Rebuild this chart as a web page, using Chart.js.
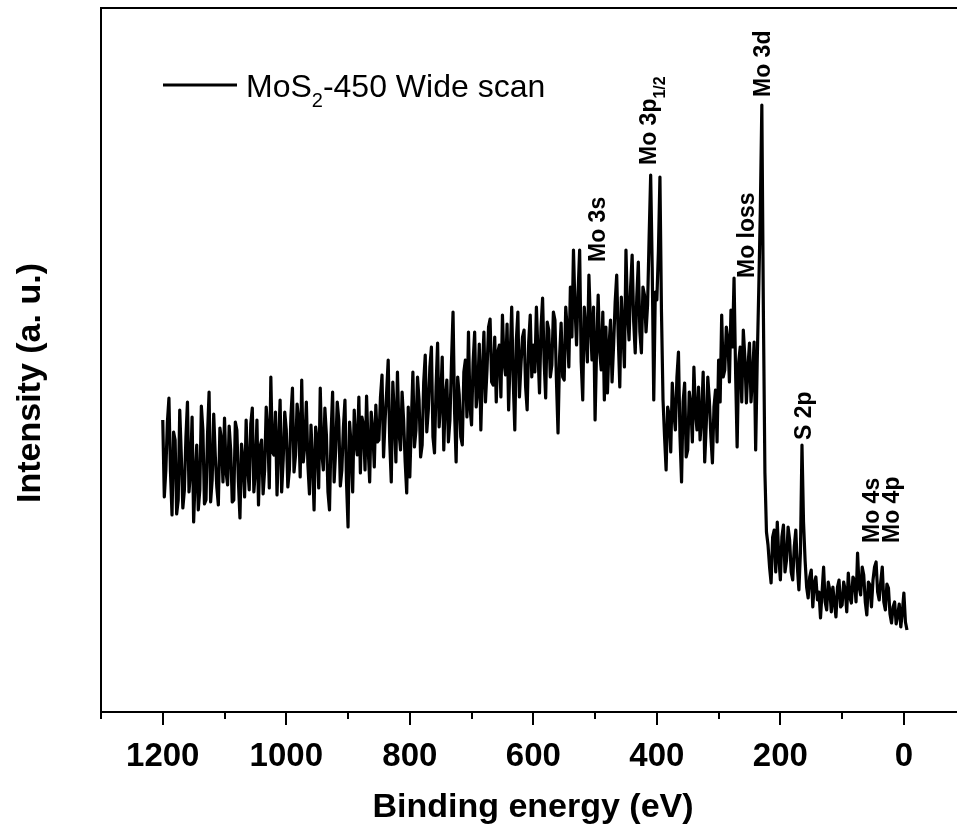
<!DOCTYPE html>
<html>
<head>
<meta charset="utf-8">
<title>MoS2-450 XPS wide scan</title>
<script src="https://cdn.jsdelivr.net/npm/chart.js@4/dist/chart.umd.min.js"></script>
<style>
  html, body { margin: 0; padding: 0; background: #fff; overflow: hidden; }
  #wrap { width: 957px; height: 833px; }
</style>
</head>
<body>
<div id="wrap"><canvas id="xps" width="957" height="833"></canvas></div>
<script>
// Binding energy grid of the survey scan (eV), 2.5 eV steps
const bindingEnergy = [
  1200,1197.5,1195,1192.5,1190,1187.5,1185,1182.5,1180,1177.5,1175,1172.5,1170,1167.5,1165,1162.5,1160,1157.5,1155,1152.5,1150,1147.5,1145,1142.5,1140,1137.5,1135,1132.5,1130,1127.5,1125,1122.5,1120,1117.5,1115,1112.5,1110,1107.5,1105,1102.5,
  1100,1097.5,1095,1092.5,1090,1087.5,1085,1082.5,1080,1077.5,1075,1072.5,1070,1067.5,1065,1062.5,1060,1057.5,1055,1052.5,1050,1047.5,1045,1042.5,1040,1037.5,1035,1032.5,1030,1027.5,1025,1022.5,1020,1017.5,1015,1012.5,1010,1007.5,1005,1002.5,
  1000,997.5,995,992.5,990,987.5,985,982.5,980,977.5,975,972.5,970,967.5,965,962.5,960,957.5,955,952.5,950,947.5,945,942.5,940,937.5,935,932.5,930,927.5,925,922.5,920,917.5,915,912.5,910,907.5,905,902.5,
  900,897.5,895,892.5,890,887.5,885,882.5,880,877.5,875,872.5,870,867.5,865,862.5,860,857.5,855,852.5,850,847.5,845,842.5,840,837.5,835,832.5,830,827.5,825,822.5,820,817.5,815,812.5,810,807.5,805,802.5,
  800,797.5,795,792.5,790,787.5,785,782.5,780,777.5,775,772.5,770,767.5,765,762.5,760,757.5,755,752.5,750,747.5,745,742.5,740,737.5,735,732.5,730,727.5,725,722.5,720,717.5,715,712.5,710,707.5,705,702.5,
  700,697.5,695,692.5,690,687.5,685,682.5,680,677.5,675,672.5,670,667.5,665,662.5,660,657.5,655,652.5,650,647.5,645,642.5,640,637.5,635,632.5,630,627.5,625,622.5,620,617.5,615,612.5,610,607.5,605,602.5,
  600,597.5,595,592.5,590,587.5,585,582.5,580,577.5,575,572.5,570,567.5,565,562.5,560,557.5,555,552.5,550,547.5,545,542.5,540,537.5,535,532.5,530,527.5,525,522.5,520,517.5,515,512.5,510,507.5,505,502.5,
  500,497.5,495,492.5,490,487.5,485,482.5,480,477.5,475,472.5,470,467.5,465,462.5,460,457.5,455,452.5,450,447.5,445,442.5,440,437.5,435,432.5,430,427.5,425,422.5,420,417.5,415,412.5,410,407.5,405,402.5,
  400,397.5,395,392.5,390,387.5,385,382.5,380,377.5,375,372.5,370,367.5,365,362.5,360,357.5,355,352.5,350,347.5,345,342.5,340,337.5,335,332.5,330,327.5,325,322.5,320,317.5,315,312.5,310,307.5,305,302.5,
  300,297.5,295,292.5,290,287.5,285,282.5,280,277.5,275,272.5,270,267.5,265,262.5,260,257.5,255,252.5,250,247.5,245,242.5,240,237.5,235,232.5,230,227.5,225,222.5,220,217.5,215,212.5,210,207.5,205,202.5,
  200,197.5,195,192.5,190,187.5,185,182.5,180,177.5,175,172.5,170,167.5,165,162.5,160,157.5,155,152.5,150,147.5,145,142.5,140,137.5,135,132.5,130,127.5,125,122.5,120,117.5,115,112.5,110,107.5,105,102.5,
  100,97.5,95,92.5,90,87.5,85,82.5,80,77.5,75,72.5,70,67.5,65,62.5,60,57.5,55,52.5,50,47.5,45,42.5,40,37.5,35,32.5,30,27.5,25,22.5,20,17.5,15,12.5,10,7.5,5,2.5,
  0,-2.5,-5
];

// Intensity (arbitrary units), one value per energy above
const intensity = [
  29.2,21.5,24.2,29.0,31.4,24.0,19.7,28.0,27.2,19.8,21.2,30.2,25.7,20.4,22.2,27.5,31.0,22.0,24.2,29.5,19.0,23.5,26.7,20.2,22.2,30.6,28.2,20.8,21.2,27.8,32.0,21.0,23.2,29.8,25.7,22.5,20.7,28.4,27.2,23.0,
  29.4,24.0,22.7,28.6,26.2,21.0,21.2,29.0,28.2,23.0,19.4,26.8,25.2,21.5,29.2,24.5,22.2,28.8,30.4,22.0,24.2,29.2,20.7,26.5,27.2,21.8,24.2,30.5,28.2,22.4,33.5,26.0,25.7,30.0,21.7,26.8,31.2,22.0,25.2,30.0,
  28.2,22.5,24.2,29.6,32.4,24.0,25.7,30.8,29.2,23.5,33.2,25.0,26.7,31.0,24.7,21.8,28.7,25.0,20.2,28.5,27.2,22.4,32.4,26.0,24.2,30.4,27.7,22.0,20.2,27.8,32.0,23.0,26.2,31.0,29.2,22.6,24.2,28.5,31.2,23.0,
  18.5,29.0,26.7,22.0,30.2,27.0,25.7,31.5,23.9,29.5,28.7,24.2,31.6,26.5,23.0,30.0,28.2,24.5,30.7,27.0,27.2,31.5,33.7,25.5,29.2,32.0,35.2,27.0,23.0,33.0,29.7,25.0,34.0,28.0,26.2,32.0,29.2,25.0,21.9,30.5,
  23.5,29.0,34.0,26.5,28.2,33.5,31.2,25.5,26.7,33.0,35.7,28.0,30.2,34.5,36.5,27.5,25.9,32.5,36.9,28.5,31.2,35.5,26.2,31.5,33.2,27.0,29.2,35.0,40.0,30.0,25.0,33.5,31.7,27.5,26.7,34.0,35.2,29.5,38.0,30.5,
  28.7,35.0,38.0,30.5,32.2,36.8,28.2,34.0,38.0,31.0,34.2,38.5,39.3,33.0,32.7,37.5,31.0,36.0,36.7,31.5,39.7,35.0,33.7,38.8,30.2,35.5,40.5,33.0,28.2,37.2,40.0,31.5,34.7,37.5,38.2,32.5,30.2,37.0,39.7,33.5,
  36.7,34.0,40.5,36.0,31.9,38.5,41.4,35.0,31.4,39.0,38.2,33.5,34.7,40.0,39.2,33.0,27.9,35.5,38.9,33.5,33.2,40.5,38.2,34.5,42.5,37.5,46.2,40.5,36.7,42.0,46.2,35.0,31.2,40.5,38.2,35.0,43.7,39.0,35.2,40.5,
  29.2,36.5,41.7,36.0,34.2,40.0,31.2,38.5,31.9,36.5,39.2,33.0,36.7,41.0,43.7,37.5,32.5,41.5,38.2,34.5,46.2,40.0,37.2,42.5,45.7,39.0,35.9,41.5,45.0,38.0,35.9,42.5,41.7,38.0,40.7,47.5,53.7,44.5,31.2,42.0,
  41.2,46.0,53.5,40.0,31.2,27.5,24.2,30.5,29.7,26.0,32.9,30.0,28.2,33.5,36.0,27.5,23.0,31.0,32.9,25.5,26.2,32.0,30.7,27.0,34.5,30.0,28.2,32.5,27.2,29.5,34.0,25.0,28.7,33.5,31.2,27.5,24.9,30.5,32.2,27.0,
  35.2,31.0,39.7,33.5,34.2,38.5,37.2,33.0,40.2,36.5,43.4,34.0,26.5,35.0,36.5,31.0,38.2,35.5,30.9,34.5,36.9,31.0,33.7,37.0,26.2,35.0,42.2,50.0,60.7,40.0,23.9,18.0,16.7,14.5,12.9,17.5,18.2,14.0,19.0,15.5,
  13.2,17.5,18.7,14.0,15.2,18.5,17.2,14.0,13.2,16.5,18.2,14.5,12.2,16.0,26.7,19.0,15.2,12.5,11.4,13.5,14.2,10.5,12.9,13.5,11.2,12.0,9.4,12.0,14.5,11.0,10.2,13.0,12.2,10.0,12.5,11.0,9.5,12.5,13.2,10.5,
  10.7,13.0,12.2,10.0,13.9,11.5,10.9,13.5,13.2,11.0,15.9,12.5,11.7,14.5,13.7,11.0,9.7,13.0,12.7,10.5,13.2,14.5,15.0,12.0,11.2,13.0,14.5,11.0,10.2,12.8,12.4,9.8,8.9,10.5,11.0,8.8,9.7,10.8,8.5,10.0,
  11.9,9.0,8.2
];

// Axis ticks (eV): labelled majors and unlabelled minors
const majorTicks = [1200, 1000, 800, 600, 400, 200, 0];
const minorTicks = [1300, 1100, 900, 700, 500, 300, 100, -100];

const seriesName = 'Wide scan';
const FONT = "Arial, 'Liberation Sans', sans-serif";

// Frame, tick marks, axis titles, legend and peak assignments
const decorations = {
  id: 'decorations',
  afterDraw(chart) {
    const { ctx, chartArea: a, scales: { x } } = chart;
    ctx.save();
    ctx.strokeStyle = '#000';
    ctx.fillStyle = '#000';

    // frame: left, top and bottom axis lines
    ctx.lineWidth = 2;
    ctx.lineJoin = 'miter';
    ctx.beginPath();
    ctx.moveTo(a.left, a.bottom + 1);
    ctx.lineTo(a.left, a.top);
    ctx.lineTo(a.right + 2, a.top);
    ctx.moveTo(a.left - 1, a.bottom);
    ctx.lineTo(a.right + 2, a.bottom);
    ctx.stroke();

    // outward tick marks
    ctx.beginPath();
    majorTicks.forEach(v => {
      const p = Math.round(x.getPixelForValue(v));
      ctx.moveTo(p, a.bottom);
      ctx.lineTo(p, a.bottom + 13);
    });
    minorTicks.forEach(v => {
      const p = Math.round(x.getPixelForValue(v));
      ctx.moveTo(p, a.bottom);
      ctx.lineTo(p, a.bottom + 7);
    });
    ctx.stroke();

    // axis titles
    ctx.font = `bold 34px ${FONT}`;
    ctx.textAlign = 'center';
    ctx.textBaseline = 'alphabetic';
    ctx.fillText('Binding energy (eV)', 533, 817);
    ctx.save();
    ctx.translate(40, 383);
    ctx.rotate(-Math.PI / 2);
    ctx.fillText('Intensity (a. u.)', 0, 0);
    ctx.restore();

    // legend
    ctx.lineWidth = 3;
    ctx.beginPath();
    ctx.moveTo(163, 85);
    ctx.lineTo(237, 85);
    ctx.stroke();
    ctx.textAlign = 'left';
    let lx = 246;
    ctx.font = `32px ${FONT}`;
    ctx.fillText('MoS', lx, 97);
    lx += ctx.measureText('MoS').width;
    ctx.font = `20px ${FONT}`;
    ctx.fillText('2', lx, 107);
    lx += ctx.measureText('2').width;
    ctx.font = `32px ${FONT}`;
    ctx.fillText('-450 ' + seriesName, lx, 97);

    // peak assignments, written bottom-to-top
    const vertical = (parts, bx, by) => {
      ctx.save();
      ctx.translate(bx, by);
      ctx.rotate(-Math.PI / 2);
      ctx.textAlign = 'left';
      let run = 0;
      parts.forEach(([txt, size, shift]) => {
        ctx.font = `bold ${size}px ${FONT}`;
        ctx.fillText(txt, run, shift);
        run += ctx.measureText(txt).width;
      });
      ctx.restore();
    };
    vertical([['Mo 3s', 23, 0]], 604.5, 262);
    vertical([['Mo 3p', 23, 0], ['1/2', 16, 9]], 655.5, 165);
    vertical([['Mo loss', 23, 0]], 753.5, 278);
    vertical([['Mo 3d', 23, 0]], 770, 97);
    vertical([['S 2p', 23, 0]], 811, 440);
    vertical([['Mo 4s', 23, 0]], 878.5, 543);
    vertical([['Mo 4p', 23, 0]], 898.5, 543);

    ctx.restore();
  }
};

new Chart(document.getElementById('xps'), {
  type: 'line',
  data: {
    datasets: [{
      label: 'MoS2-450 ' + seriesName,
      data: bindingEnergy.map((e, i) => ({ x: e, y: intensity[i] })),
      borderColor: '#000',
      borderWidth: 3.2,
      borderJoinStyle: 'round',
      pointRadius: 0,
      tension: 0,
      fill: false
    }]
  },
  options: {
    responsive: false,
    animation: false,
    devicePixelRatio: 1,
    layout: { padding: { left: 0, top: 8, right: 0, bottom: 0 } },
    plugins: { legend: { display: false }, tooltip: { enabled: false } },
    scales: {
      x: {
        type: 'linear',
        reverse: true,
        min: -86,
        max: 1300,
        afterBuildTicks(scale) { scale.ticks = majorTicks.map(v => ({ value: v })); },
        afterFit(scale) { scale.height = 121; },
        grid: { display: false },
        border: { display: false },
        ticks: {
          padding: 17,
          autoSkip: false,
          maxRotation: 0,
          color: '#000',
          font: { family: FONT, size: 33, weight: 'bold' },
          callback: v => String(v)
        }
      },
      y: {
        min: 0,
        max: 70.4,
        afterFit(scale) { scale.width = 101; },
        grid: { display: false },
        border: { display: false },
        ticks: { display: false }
      }
    }
  },
  plugins: [decorations]
});
</script>
</body>
</html>
